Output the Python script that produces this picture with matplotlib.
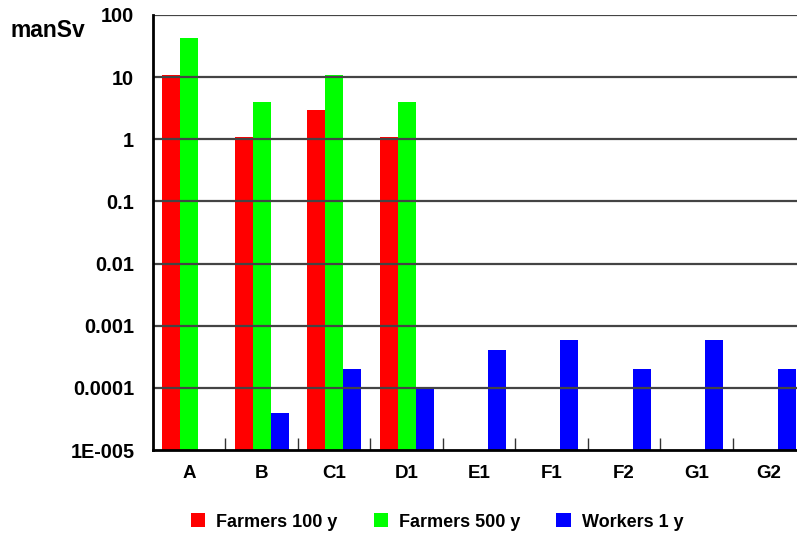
import matplotlib
matplotlib.use("Agg")
import matplotlib.pyplot as plt
import numpy as np
from matplotlib.patches import Patch

categories = ["A", "B", "C1", "D1", "E1", "F1", "F2", "G1", "G2"]
farmers_100y = [11, 1.1, 3.0, 1.1, None, None, None, None, None]
farmers_500y = [42, 4.0, 11, 4.0, None, None, None, None, None]
workers_1y = [None, 4e-5, 2e-4, 1e-4, 4e-4, 6e-4, 2e-4, 6e-4, 2e-4]

series_names = ["Farmers 100 y", "Farmers 500 y", "Workers 1 y"]
series_colors = ["#ff0000", "#00ff00", "#0000ff"]

y_ticks = [1e-5, 1e-4, 1e-3, 1e-2, 1e-1, 1, 10, 100]
y_tick_labels = ["1E-005", "0.0001", "0.001", "0.01", "0.1", "1", "10", "100"]

plt.rcParams["font.family"] = ["Liberation Sans", "DejaVu Sans"]

W, H = 797, 538
fig = plt.figure(figsize=(W / 100, H / 100), dpi=100)
left, right, top, bottom = 153, 805, 15, 450
ax = fig.add_axes([left / W, 1 - bottom / H, (right - left) / W, (bottom - top) / H])

x = np.arange(len(categories))
bw = 0.248
bottom_val = 1e-5
for i, (vals, color) in enumerate(zip([farmers_100y, farmers_500y, workers_1y], series_colors)):
    xs = [xi + (i - 1) * bw for xi, v in zip(x, vals) if v is not None]
    hs = [v - bottom_val for v in vals if v is not None]
    ax.bar(xs, hs, width=bw, bottom=bottom_val, color=color, linewidth=0, zorder=2)

ax.set_yscale("log")
ax.set_ylim(1e-5, 100)
ax.set_xlim(-0.5, len(categories) - 0.5)
ax.set_yticks(y_ticks)
ax.set_yticklabels(y_tick_labels)
ax.yaxis.set_minor_locator(matplotlib.ticker.NullLocator())
ax.tick_params(axis="y", length=0, pad=13.5, labelsize=14.3)
for lbl in ax.get_yticklabels():
    lbl.set_fontweight("bold")

ax.set_xticks(x)
ax.set_xticklabels(categories, fontsize=13.5, fontweight="bold")
ax.tick_params(axis="x", which="major", length=0, pad=11)
ax.set_xticks(x[:-1] + 0.5, minor=True)
ax.tick_params(axis="x", which="minor", direction="in", length=9, width=1, color="#333333")

for yv in y_ticks[1:]:
    ax.axhline(yv, color="#444444", linewidth=1.6, zorder=3)

for side in ["top", "right"]:
    ax.spines[side].set_visible(False)
ax.spines["left"].set_linewidth(2)
ax.spines["bottom"].set_linewidth(2)
ax.spines["left"].set_zorder(4)
ax.spines["bottom"].set_zorder(4)

fig.text(11 / W, 1 - 37 / H, "manSv", fontsize=16.5, fontweight="bold", va="baseline", ha="left")

handles = [Patch(facecolor=c, edgecolor="none") for c in series_colors]
fig.legend(handles, series_names, loc="center", bbox_to_anchor=(437 / W, 1 - 522 / H),
           ncol=3, frameon=False, prop={"weight": "bold", "size": 13},
           handlelength=0.8, handleheight=0.8, columnspacing=2.0, handletextpad=0.6)

fig.savefig("out.png", dpi=100)
